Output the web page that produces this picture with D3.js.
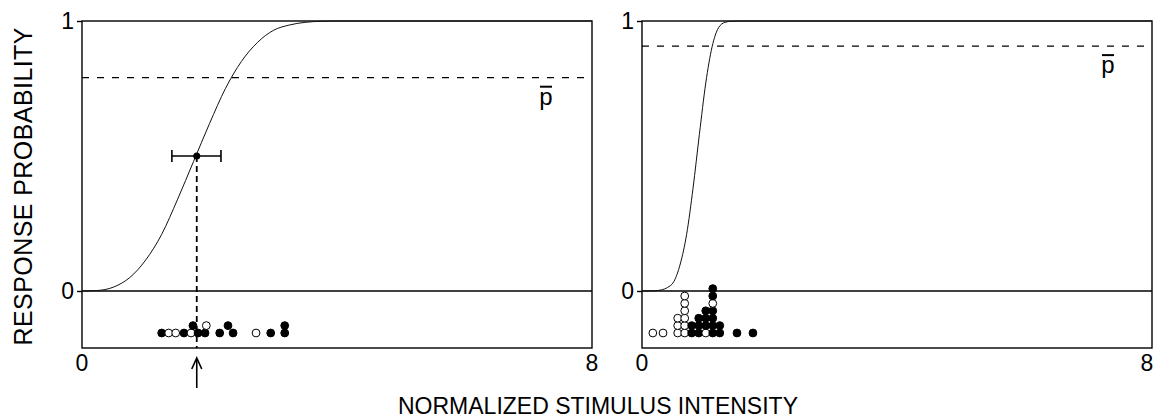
<!DOCTYPE html>
<html>
<head>
<meta charset="utf-8">
<script src="https://cdn.jsdelivr.net/npm/d3@7"></script>
<style>
  body { margin: 0; background: #fff; }
  svg { display: block; font-family: "Liberation Sans", Arial, sans-serif; }
</style>
</head>
<body>
<div id="chart"></div>
<script>
// axis ticks
var xTicks = [0, 8];
var yTicks = [0, 1];

// left panel: fitted psychometric curve
var leftCurveX = [0, 0.25, 0.5, 0.75, 1.0, 1.25, 1.5, 1.75, 2.0, 2.25, 2.5, 2.75, 3.0, 3.25, 3.5, 3.75, 4.0, 8];
var leftCurveP = [0, 0.002, 0.015, 0.05, 0.115, 0.21, 0.34, 0.48, 0.62, 0.75, 0.85, 0.92, 0.965, 0.985, 0.995, 0.999, 1, 1];
var leftPbar = 0.79;
var leftThreshX = 1.80, leftThreshP = 0.5;
var leftCILow = 1.41, leftCIHigh = 2.18;

// left panel trials: intensity, stack level, response (1 = yes / filled)
var leftDotX = [1.25, 1.36, 1.47, 1.60, 1.71, 1.82, 1.93, 2.16, 2.37, 2.73, 2.96, 3.18, 1.74, 1.95, 2.29, 3.18];
var leftDotRow = [0, 0, 0, 0, 0, 0, 0, 0, 0, 0, 0, 0, 1, 1, 1, 1];
var leftDotResp = [1, 0, 0, 1, 0, 1, 1, 1, 1, 0, 1, 1, 1, 0, 1, 1];

// right panel
var rightCurveX = [0, 0.2, 0.3, 0.4, 0.5, 0.6, 0.7, 0.8, 0.9, 1.0, 1.1, 1.2, 1.3, 1.4, 1.6, 8];
var rightCurveP = [0, 0.001, 0.004, 0.013, 0.035, 0.10, 0.21, 0.38, 0.58, 0.77, 0.905, 0.975, 0.995, 0.999, 1, 1];
var rightPbar = 0.907;

var rightDotX = [0.17, 0.33,
  0.56, 0.56, 0.56,
  0.67, 0.67, 0.67, 0.67, 0.67, 0.67,
  0.78, 0.78,
  0.89, 0.89, 0.89,
  1.00, 1.00, 1.00, 1.00,
  1.11, 1.11, 1.11, 1.11, 1.11, 1.11, 1.11,
  1.22, 1.22, 1.49, 1.74];
var rightDotRow = [0, 0,
  0, 1, 2,
  0, 1, 2, 3, 4, 5,
  0, 1,
  0, 1, 2,
  0, 1, 2, 3,
  0, 1, 2, 3, 4, 5, 6,
  0, 1, 0, 0];
var rightDotResp = [0, 0,
  0, 0, 0,
  0, 0, 0, 0, 0, 0,
  1, 1,
  1, 1, 1,
  0, 1, 1, 1,
  1, 1, 1, 1, 0, 1, 1,
  1, 1, 1, 1];

var W = 1155, H = 419;
var svg = d3.select("#chart").append("svg")
  .attr("width", W).attr("height", H);

var panelW = 510;
var plotTop = 21, zeroY = 291;
var plotBottom = 348;
var dotR = 3.9, dotStep = 7.4, dotBaseY = 333;

var yScale = d3.scaleLinear().domain([0, 1]).range([zeroY, plotTop]);
var yMin = yScale.invert(plotBottom);

function drawPanel(left, cx, cp, pbar, dx, drow, dresp, pbarLabelX, thresh, lastTickShift) {
  var xScale = d3.scaleLinear().domain([0, 8]).range([left, left + panelW]);
  var g = svg.append("g");

  // frame
  g.append("rect")
    .attr("x", xScale(0)).attr("y", yScale(1))
    .attr("width", xScale(8) - xScale(0))
    .attr("height", yScale(yMin) - yScale(1))
    .attr("fill", "none").attr("stroke", "#000").attr("stroke-width", 1.4);

  // y ticks + zero line
  g.append("g")
    .attr("transform", "translate(" + xScale(0) + ",0)")
    .call(d3.axisLeft(yScale).tickValues(yTicks).tickSize(5).tickPadding(3).tickFormat(d3.format("d")))
    .call(function(a) {
      a.select(".domain").remove();
      a.selectAll("line").attr("stroke-width", 1.4);
      a.selectAll("text").attr("font-size", 23).attr("font-family", "Liberation Sans, Arial, sans-serif").attr("fill", "#000");
    });
  g.append("line")
    .attr("x1", xScale(0)).attr("x2", xScale(8))
    .attr("y1", yScale(0)).attr("y2", yScale(0))
    .attr("stroke", "#000").attr("stroke-width", 1.4);

  // x tick labels
  g.selectAll(".xt").data(xTicks).enter().append("text")
    .attr("x", function(d, i) { return xScale(d) - (i === xTicks.length - 1 ? lastTickShift : 0); })
    .attr("y", plotBottom + 23)
    .attr("text-anchor", "middle")
    .attr("font-size", 23)
    .text(function(d) { return d; });

  // p-bar dashed line
  g.append("line")
    .attr("x1", xScale(0)).attr("x2", xScale(8))
    .attr("y1", yScale(pbar)).attr("y2", yScale(pbar))
    .attr("stroke", "#000").attr("stroke-width", 1.3)
    .attr("stroke-dasharray", "7,8");
  g.append("text")
    .attr("x", pbarLabelX).attr("y", yScale(pbar) + 27)
    .attr("text-anchor", "middle")
    .attr("font-size", 24)
    .text("p");
  g.append("line")
    .attr("x1", pbarLabelX - 6).attr("x2", pbarLabelX + 6)
    .attr("y1", yScale(pbar) + 9).attr("y2", yScale(pbar) + 9)
    .attr("stroke", "#000").attr("stroke-width", 2);

  // curve
  var pts = cx.map(function(x, i) { return [x, cp[i]]; });
  var line = d3.line()
    .x(function(d) { return xScale(d[0]); })
    .y(function(d) { return yScale(d[1]); })
    .curve(d3.curveMonotoneX);
  g.append("path").datum(pts)
    .attr("d", line)
    .attr("fill", "none").attr("stroke", "#111").attr("stroke-width", 1);

  // threshold marker
  if (thresh) {
    var tx = xScale(thresh.x), ty = yScale(thresh.p);
    g.append("line")
      .attr("x1", tx).attr("x2", tx)
      .attr("y1", ty).attr("y2", plotBottom)
      .attr("stroke", "#000").attr("stroke-width", 1.8)
      .attr("stroke-dasharray", "6,4");
    g.append("line")
      .attr("x1", xScale(thresh.lo)).attr("x2", xScale(thresh.hi))
      .attr("y1", ty).attr("y2", ty)
      .attr("stroke", "#000").attr("stroke-width", 1.6);
    [thresh.lo, thresh.hi].forEach(function(v) {
      g.append("line")
        .attr("x1", xScale(v)).attr("x2", xScale(v))
        .attr("y1", ty - 6).attr("y2", ty + 6)
        .attr("stroke", "#000").attr("stroke-width", 1.6);
    });
    g.append("circle").attr("cx", tx).attr("cy", ty).attr("r", 3.5).attr("fill", "#000");
    // arrow below axis
    g.append("line")
      .attr("x1", tx).attr("x2", tx)
      .attr("y1", plotBottom + 12).attr("y2", plotBottom + 40)
      .attr("stroke", "#000").attr("stroke-width", 1.6);
    g.append("path")
      .attr("d", "M" + (tx - 5) + "," + (plotBottom + 21) + "L" + tx + "," + (plotBottom + 10) + "L" + (tx + 5) + "," + (plotBottom + 21))
      .attr("fill", "none").attr("stroke", "#000").attr("stroke-width", 1.6);
  }

  // trial dots
  g.selectAll(".dot").data(dx).enter().append("circle")
    .attr("cx", function(d) { return xScale(d); })
    .attr("cy", function(d, i) { return dotBaseY - drow[i] * dotStep; })
    .attr("r", dotR)
    .attr("fill", function(d, i) { return dresp[i] ? "#000" : "#fff"; })
    .attr("stroke", "#000").attr("stroke-width", 1);
}

drawPanel(82, leftCurveX, leftCurveP, leftPbar, leftDotX, leftDotRow, leftDotResp, 546,
  { x: leftThreshX, p: leftThreshP, lo: leftCILow, hi: leftCIHigh }, 0);
drawPanel(642, rightCurveX, rightCurveP, rightPbar, rightDotX, rightDotRow, rightDotResp, 1108, null, 5);

// axis titles
svg.append("text")
  .attr("transform", "translate(32," + ((plotTop + plotBottom) / 2 + 2) + ") rotate(-90)")
  .attr("text-anchor", "middle")
  .attr("font-size", 25)
  .attr("textLength", 318)
  .text("RESPONSE PROBABILITY");
svg.append("text")
  .attr("x", 598).attr("y", 414)
  .attr("text-anchor", "middle")
  .attr("font-size", 23)
  .text("NORMALIZED STIMULUS INTENSITY");
</script>
</body>
</html>
